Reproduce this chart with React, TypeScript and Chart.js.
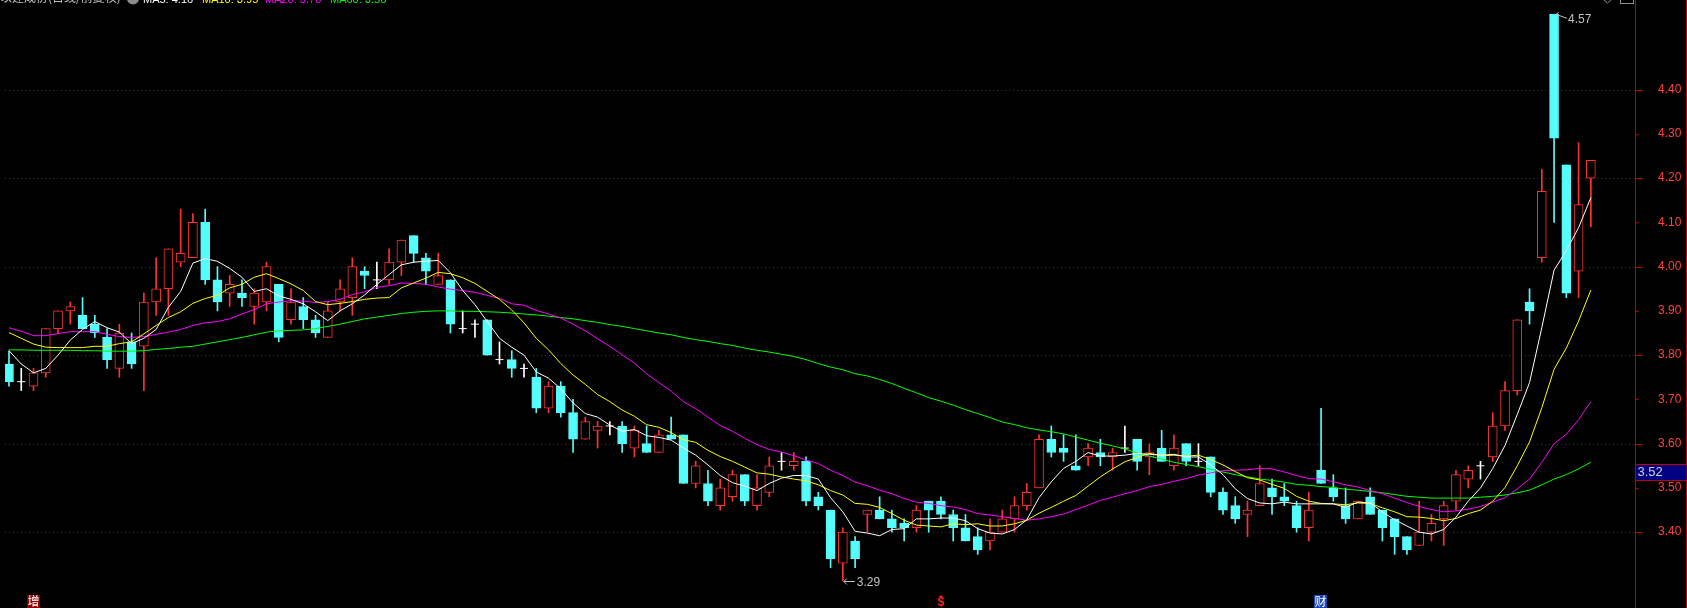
import React, { useEffect, useRef } from 'react';
import { Chart, registerables } from 'chart.js';

Chart.register(...registerables);

// ---------- DATA ----------
const opens = [
  3.78, 3.74, 3.73, 3.76, 3.86, 3.90, 3.89, 3.87, 3.84, 3.77,
  3.83, 3.82, 3.92, 3.95, 4.01, 4.02, 4.10, 3.97, 3.94, 3.94,
  3.91, 3.92, 3.96, 3.88, 3.91, 3.88, 3.84, 3.92, 3.93, 3.99,
  3.97, 3.97, 4.01, 4.07, 4.02, 3.96, 3.97, 3.86, 3.87, 3.88,
  3.79, 3.79, 3.77, 3.75, 3.68, 3.73, 3.67, 3.61, 3.63, 3.64,
  3.64, 3.59, 3.60, 3.58, 3.62, 3.62, 3.51, 3.51, 3.46, 3.48,
  3.53, 3.46, 3.49, 3.56, 3.55, 3.56, 3.48, 3.45, 3.33, 3.38,
  3.44, 3.45, 3.43, 3.42, 3.41, 3.47, 3.47, 3.44, 3.41, 3.39,
  3.38, 3.40, 3.43, 3.46, 3.50, 3.61, 3.59, 3.55, 3.57, 3.58,
  3.57, 3.59, 3.61, 3.57, 3.59, 3.55, 3.60, 3.56, 3.57, 3.49,
  3.46, 3.44, 3.46, 3.50, 3.48, 3.46, 3.41, 3.54, 3.50, 3.46,
  3.43, 3.48, 3.45, 3.43, 3.39, 3.37, 3.40, 3.43, 3.47, 3.52,
  3.55, 3.57, 3.64, 3.72, 3.92, 4.02, 4.57, 4.23, 3.99, 4.20,
];
const highs = [
  3.81, 3.77, 3.77, 3.86, 3.90, 3.92, 3.93, 3.89, 3.86, 3.87,
  3.85, 3.94, 4.02, 4.04, 4.13, 4.12, 4.13, 4.00, 3.98, 3.97,
  3.95, 4.01, 3.96, 3.95, 3.93, 3.89, 3.92, 3.97, 4.02, 4.00,
  4.01, 4.04, 4.06, 4.07, 4.03, 4.03, 3.97, 3.90, 3.88, 3.88,
  3.83, 3.81, 3.78, 3.77, 3.74, 3.74, 3.70, 3.66, 3.65, 3.65,
  3.65, 3.64, 3.64, 3.63, 3.66, 3.62, 3.56, 3.54, 3.52, 3.54,
  3.53, 3.53, 3.57, 3.58, 3.58, 3.57, 3.49, 3.45, 3.41, 3.39,
  3.45, 3.48, 3.45, 3.43, 3.46, 3.47, 3.48, 3.45, 3.44, 3.41,
  3.43, 3.45, 3.48, 3.51, 3.62, 3.64, 3.62, 3.62, 3.60, 3.61,
  3.59, 3.64, 3.61, 3.60, 3.63, 3.62, 3.60, 3.60, 3.57, 3.50,
  3.48, 3.47, 3.55, 3.52, 3.51, 3.47, 3.49, 3.68, 3.53, 3.50,
  3.47, 3.50, 3.45, 3.43, 3.39, 3.47, 3.44, 3.47, 3.54, 3.55,
  3.56, 3.67, 3.74, 3.88, 3.95, 4.22, 4.57, 4.23, 4.28, 4.24,
];
const lows = [
  3.73, 3.72, 3.72, 3.75, 3.85, 3.87, 3.86, 3.84, 3.77, 3.75,
  3.77, 3.72, 3.89, 3.89, 4.00, 4.02, 3.96, 3.90, 3.91, 3.91,
  3.87, 3.90, 3.83, 3.87, 3.86, 3.84, 3.84, 3.90, 3.89, 3.95,
  3.95, 3.96, 3.98, 4.01, 3.96, 3.96, 3.85, 3.85, 3.84, 3.80,
  3.78, 3.75, 3.75, 3.67, 3.67, 3.66, 3.58, 3.61, 3.59, 3.62,
  3.58, 3.57, 3.58, 3.58, 3.61, 3.51, 3.50, 3.46, 3.45, 3.47,
  3.46, 3.45, 3.48, 3.54, 3.54, 3.46, 3.45, 3.32, 3.29, 3.32,
  3.40, 3.43, 3.40, 3.38, 3.40, 3.40, 3.43, 3.38, 3.38, 3.35,
  3.36, 3.40, 3.40, 3.45, 3.50, 3.57, 3.56, 3.54, 3.55, 3.55,
  3.54, 3.58, 3.54, 3.53, 3.56, 3.54, 3.55, 3.55, 3.48, 3.44,
  3.42, 3.39, 3.46, 3.44, 3.46, 3.40, 3.38, 3.51, 3.47, 3.42,
  3.43, 3.44, 3.38, 3.35, 3.35, 3.37, 3.38, 3.37, 3.45, 3.50,
  3.52, 3.56, 3.63, 3.71, 3.87, 4.01, 4.10, 3.93, 3.93, 4.09,
];
const closes = [
  3.74, 3.74, 3.76, 3.86, 3.90, 3.91, 3.86, 3.85, 3.79, 3.85,
  3.78, 3.92, 3.95, 4.04, 4.03, 4.10, 3.97, 3.92, 3.96, 3.93,
  3.94, 4.00, 3.84, 3.92, 3.88, 3.85, 3.90, 3.95, 4.00, 3.98,
  3.97, 4.01, 4.06, 4.03, 3.99, 3.98, 3.87, 3.86, 3.87, 3.80,
  3.79, 3.77, 3.77, 3.68, 3.73, 3.67, 3.61, 3.65, 3.64, 3.64,
  3.60, 3.63, 3.58, 3.62, 3.61, 3.51, 3.55, 3.47, 3.50, 3.53,
  3.47, 3.50, 3.55, 3.56, 3.56, 3.47, 3.46, 3.34, 3.40, 3.34,
  3.45, 3.43, 3.41, 3.41, 3.45, 3.45, 3.44, 3.41, 3.38, 3.36,
  3.40, 3.43, 3.46, 3.49, 3.61, 3.58, 3.58, 3.54, 3.59, 3.57,
  3.58, 3.59, 3.56, 3.58, 3.56, 3.59, 3.56, 3.56, 3.49, 3.45,
  3.43, 3.45, 3.51, 3.48, 3.47, 3.41, 3.45, 3.51, 3.48, 3.43,
  3.47, 3.44, 3.41, 3.39, 3.36, 3.40, 3.42, 3.46, 3.53, 3.54,
  3.55, 3.64, 3.72, 3.88, 3.90, 4.17, 4.29, 3.94, 4.14, 4.24,
];

const ma5 = [
  3.810, 3.780, 3.760, 3.770, 3.800, 3.834, 3.858, 3.876, 3.862, 3.852,
  3.826, 3.838, 3.858, 3.908, 3.944, 4.008, 4.018, 4.012, 3.996, 3.976,
  3.944, 3.950, 3.934, 3.926, 3.916, 3.898, 3.878, 3.900, 3.916, 3.936,
  3.960, 3.982, 4.004, 4.010, 4.012, 4.014, 3.986, 3.946, 3.914, 3.876,
  3.838, 3.818, 3.800, 3.762, 3.748, 3.724, 3.692, 3.668, 3.660, 3.642,
  3.628, 3.632, 3.618, 3.614, 3.608, 3.590, 3.574, 3.552, 3.528, 3.512,
  3.504, 3.494, 3.510, 3.522, 3.528, 3.528, 3.520, 3.478, 3.446, 3.402,
  3.398, 3.392, 3.406, 3.408, 3.430, 3.430, 3.432, 3.432, 3.426, 3.408,
  3.398, 3.396, 3.406, 3.428, 3.478, 3.514, 3.544, 3.560, 3.580, 3.572,
  3.572, 3.574, 3.578, 3.576, 3.574, 3.576, 3.570, 3.570, 3.552, 3.530,
  3.498, 3.476, 3.466, 3.464, 3.468, 3.464, 3.464, 3.464, 3.464, 3.456,
  3.468, 3.466, 3.446, 3.428, 3.414, 3.400, 3.396, 3.406, 3.434, 3.470,
  3.500, 3.544, 3.596, 3.666, 3.738, 3.862, 3.992, 4.036, 4.088, 4.156,
];
const ma10 = [
  3.851, 3.838, 3.825, 3.818, 3.817, 3.817, 3.817, 3.820, 3.820, 3.826,
  3.830, 3.848, 3.867, 3.885, 3.898, 3.917, 3.928, 3.935, 3.952, 3.960,
  3.976, 3.984, 3.973, 3.961, 3.946, 3.921, 3.914, 3.917, 3.921, 3.926,
  3.929, 3.930, 3.952, 3.963, 3.974, 3.987, 3.984, 3.975, 3.962, 3.944,
  3.926, 3.902, 3.873, 3.838, 3.812, 3.781, 3.755, 3.734, 3.711, 3.695,
  3.676, 3.662, 3.643, 3.637, 3.625, 3.609, 3.603, 3.585, 3.571, 3.560,
  3.547, 3.534, 3.531, 3.525, 3.520, 3.516, 3.507, 3.494, 3.484, 3.465,
  3.463, 3.456, 3.442, 3.427, 3.416, 3.414, 3.412, 3.419, 3.417, 3.419,
  3.414, 3.414, 3.419, 3.427, 3.443, 3.456, 3.470, 3.483, 3.504, 3.525,
  3.543, 3.559, 3.569, 3.578, 3.573, 3.574, 3.572, 3.574, 3.564, 3.552,
  3.537, 3.523, 3.518, 3.508, 3.499, 3.481, 3.470, 3.465, 3.464, 3.462,
  3.466, 3.465, 3.455, 3.446, 3.435, 3.434, 3.431, 3.426, 3.431, 3.442,
  3.450, 3.470, 3.501, 3.550, 3.604, 3.681, 3.768, 3.816, 3.877, 3.947,
];
const ma20 = [
  3.862, 3.854, 3.844, 3.844, 3.849, 3.853, 3.853, 3.853, 3.847, 3.842,
  3.840, 3.842, 3.847, 3.852, 3.858, 3.867, 3.873, 3.876, 3.882, 3.893,
  3.903, 3.916, 3.920, 3.923, 3.922, 3.919, 3.921, 3.926, 3.937, 3.943,
  3.953, 3.957, 3.963, 3.962, 3.960, 3.954, 3.949, 3.946, 3.942, 3.935,
  3.928, 3.916, 3.913, 3.901, 3.893, 3.884, 3.870, 3.855, 3.837, 3.820,
  3.801, 3.782, 3.758, 3.738, 3.719, 3.695, 3.679, 3.660, 3.641, 3.628,
  3.612, 3.598, 3.587, 3.581, 3.573, 3.563, 3.555, 3.540, 3.528, 3.513,
  3.505, 3.495, 3.487, 3.476, 3.468, 3.465, 3.460, 3.457, 3.451, 3.442,
  3.439, 3.435, 3.431, 3.427, 3.430, 3.435, 3.441, 3.451, 3.461, 3.472,
  3.479, 3.487, 3.494, 3.503, 3.508, 3.515, 3.521, 3.529, 3.534, 3.539,
  3.540, 3.541, 3.544, 3.543, 3.536, 3.528, 3.521, 3.520, 3.514, 3.507,
  3.502, 3.494, 3.487, 3.477, 3.467, 3.458, 3.451, 3.446, 3.448, 3.452,
  3.458, 3.468, 3.478, 3.498, 3.520, 3.558, 3.600, 3.621, 3.654, 3.695,
];
const ma60 = [
  3.812, 3.812, 3.811, 3.811, 3.811, 3.811, 3.810, 3.810, 3.809, 3.809,
  3.809, 3.810, 3.813, 3.815, 3.818, 3.820, 3.825, 3.830, 3.835, 3.840,
  3.846, 3.852, 3.855, 3.856, 3.857, 3.860, 3.865, 3.870, 3.876, 3.882,
  3.886, 3.890, 3.894, 3.897, 3.899, 3.900, 3.900, 3.899, 3.899, 3.898,
  3.897, 3.895, 3.893, 3.891, 3.888, 3.885, 3.882, 3.878, 3.874, 3.869,
  3.865, 3.860, 3.855, 3.850, 3.846, 3.840, 3.835, 3.831, 3.826, 3.822,
  3.816, 3.811, 3.807, 3.802, 3.797, 3.790, 3.781, 3.773, 3.767, 3.758,
  3.753, 3.745, 3.736, 3.725, 3.715, 3.704, 3.696, 3.687, 3.677, 3.668,
  3.659, 3.649, 3.643, 3.636, 3.631, 3.627, 3.622, 3.615, 3.608, 3.601,
  3.595, 3.588, 3.579, 3.572, 3.565, 3.558, 3.553, 3.548, 3.542, 3.536,
  3.530, 3.525, 3.520, 3.517, 3.513, 3.508, 3.506, 3.503, 3.501, 3.497,
  3.495, 3.492, 3.489, 3.485, 3.481, 3.479, 3.477, 3.477, 3.477, 3.477,
  3.479, 3.481, 3.484, 3.489, 3.495, 3.507, 3.520, 3.530, 3.543, 3.558,
];

const yTickValues = [3.4, 3.5, 3.6, 3.7, 3.8, 3.9, 4.0, 4.1, 4.2, 4.3, 4.4];
const gridValues = [3.4, 3.6, 3.8, 4.0, 4.2, 4.4];

const titleText = '以建成份(日线/前复权)';
const legendItems = [
  { text: 'MA5: 4.16', color: '#ffffff', x: 143 },
  { text: 'MA10: 3.95', color: '#ffff00', x: 202 },
  { text: 'MA20: 3.70', color: '#ff00ff', x: 265 },
  { text: 'MA60: 3.56', color: '#00ff00', x: 330 },
];
const bottomMarkers = [
  { index: 2, text: '增', bg: '#8c0000', color: '#ffffff' },
  { index: 76, text: '$', bg: '', color: '#ff2020' },
  { index: 107, text: '财', bg: '#1e46b4', color: '#ffffff' },
];
const highMark = { index: 126, value: 4.57 };
const lowMark = { index: 68, value: 3.29 };
const cursorPrice = 3.52;

const UP = '#ff3232';
const DOWN = '#54fcfc';
const DOJI = '#ffffff';

function candleColor(i: number) {
  if (closes[i] > opens[i]) return UP;
  if (closes[i] < opens[i]) return DOWN;
  return DOJI;
}

const decorPlugin = {
  id: 'decor',
  beforeDraw(chart: any) {
    const ctx = chart.ctx;
    ctx.save();
    ctx.fillStyle = '#000000';
    ctx.fillRect(0, 0, chart.width, chart.height);
    ctx.restore();
  },
  beforeDatasetsDraw(chart: any) {
    const { ctx, chartArea } = chart;
    const y = chart.scales.y;
    ctx.save();
    ctx.strokeStyle = '#b40000';
    ctx.lineWidth = 1;
    ctx.setLineDash([1, 3]);
    gridValues.forEach((v) => {
      const py = Math.round(y.getPixelForValue(v)) + 0.5;
      ctx.beginPath();
      ctx.moveTo(chartArea.left, py);
      ctx.lineTo(chartArea.right, py);
      ctx.stroke();
    });
    ctx.restore();
  },
  afterDraw(chart: any) {
    const { ctx, chartArea } = chart;
    const y = chart.scales.y;
    const x = chart.scales.x;
    ctx.save();
    // axis line + ticks
    const ax = Math.round(chartArea.right) + 0.5;
    ctx.strokeStyle = '#c00000';
    ctx.lineWidth = 1;
    ctx.beginPath();
    ctx.moveTo(ax, 0);
    ctx.lineTo(ax, chart.height);
    ctx.moveTo(chart.width - 0.5, 0);
    ctx.lineTo(chart.width - 0.5, chart.height);
    ctx.stroke();
    yTickValues.forEach((v) => {
      const major = gridValues.some((g) => Math.abs(g - v) < 1e-6);
      const py = Math.round(y.getPixelForValue(v)) + 0.5;
      ctx.beginPath();
      ctx.moveTo(ax, py);
      ctx.lineTo(ax + (major ? 6 : 3), py);
      ctx.stroke();
    });

    // cursor price box
    const cy = y.getPixelForValue(cursorPrice);
    const top = Math.round(cy) - 15;
    ctx.fillStyle = '#000080';
    ctx.fillRect(ax + 0.5, top, chart.width - ax - 1, 16);
    ctx.strokeStyle = '#c00000';
    ctx.beginPath();
    ctx.moveTo(ax, top + 0.5);
    ctx.lineTo(chart.width, top + 0.5);
    ctx.moveTo(ax, top + 16.5);
    ctx.lineTo(chart.width, top + 16.5);
    ctx.stroke();
    ctx.fillStyle = '#d0d0e0';
    ctx.font = '13px "Liberation Sans", Arial, sans-serif';
    ctx.textBaseline = 'middle';
    ctx.textAlign = 'left';
    ctx.fillText(cursorPrice.toFixed(2), ax + 2, top + 8.5);

    // high / low annotations
    ctx.strokeStyle = '#c0c0c0';
    ctx.fillStyle = '#c0c0c0';
    ctx.font = '12px "Liberation Sans", Arial, sans-serif';
    const hx = x.getPixelForValue(highMark.index);
    const hy = y.getPixelForValue(highMark.value);
    ctx.beginPath();
    ctx.moveTo(hx + 2, hy);
    ctx.lineTo(hx + 13, hy + 4);
    ctx.moveTo(hx + 2, hy);
    ctx.lineTo(hx + 5, hy - 2);
    ctx.moveTo(hx + 2, hy);
    ctx.lineTo(hx + 4, hy + 3);
    ctx.stroke();
    ctx.textBaseline = 'middle';
    ctx.fillText(highMark.value.toFixed(2), hx + 14, hy + 5);

    const lx = x.getPixelForValue(lowMark.index);
    const ly = Math.round(y.getPixelForValue(lowMark.value)) + 0.5;
    ctx.beginPath();
    ctx.moveTo(lx + 1, ly);
    ctx.lineTo(lx + 12, ly);
    ctx.moveTo(lx + 1, ly);
    ctx.lineTo(lx + 4, ly - 3);
    ctx.moveTo(lx + 1, ly);
    ctx.lineTo(lx + 4, ly + 3);
    ctx.stroke();
    ctx.fillText(lowMark.value.toFixed(2), lx + 14, ly + 1);

    // top legend (cut off by the top edge)
    ctx.textBaseline = 'alphabetic';
    ctx.fillStyle = '#c0c0c0';
    ctx.font = '12px "Noto Sans CJK SC", sans-serif';
    ctx.fillText(titleText, 0, 2);
    ctx.fillStyle = '#8c8c8c';
    ctx.beginPath();
    ctx.arc(133, -1.5, 6, 0, Math.PI * 2);
    ctx.fill();
    ctx.font = '11px "Liberation Sans", Arial, sans-serif';
    legendItems.forEach((it) => {
      ctx.fillStyle = it.color;
      ctx.fillText(it.text, it.x, 3);
    });

    // top-right small icons
    ctx.strokeStyle = '#8c8c8c';
    ctx.beginPath();
    ctx.moveTo(1604, 0);
    ctx.lineTo(1607.5, 3);
    ctx.lineTo(1611, 0);
    ctx.stroke();
    ctx.strokeRect(1620.5, -3.5, 13, 7);

    // bottom markers
    ctx.textAlign = 'center';
    ctx.textBaseline = 'middle';
    bottomMarkers.forEach((m) => {
      const mx = Math.round(x.getPixelForValue(m.index));
      if (m.bg) {
        ctx.fillStyle = m.bg;
        ctx.fillRect(mx - 7, chart.height - 13, 13, 13);
        ctx.fillStyle = m.color;
        ctx.font = '12px "Noto Sans CJK SC", sans-serif';
        ctx.fillText(m.text, mx - 0.5, chart.height - 6.5);
      } else {
        ctx.fillStyle = m.color;
        ctx.font = 'bold 12px "Liberation Sans", Arial, sans-serif';
        ctx.fillText(m.text, mx, chart.height - 5);
        ctx.beginPath();
        ctx.moveTo(mx - 2, chart.height - 11);
        ctx.lineTo(mx, chart.height - 13);
        ctx.lineTo(mx + 2, chart.height - 11);
        ctx.fill();
      }
    });
    ctx.restore();
  },
};

export default function App() {
  const canvasRef = useRef<HTMLCanvasElement | null>(null);

  useEffect(() => {
    const canvas = canvasRef.current;
    if (!canvas) return;
    const idx = closes.map((_, i) => i);
    const bodyIdx = idx.filter((i) => opens[i] !== closes[i]);
    const dojiIdx = idx.filter((i) => opens[i] === closes[i]);

    const maDataset = (label: string, values: number[], color: string) => ({
      type: 'line',
      label,
      data: values.map((v, i) => ({ x: i, y: v })),
      borderColor: color,
      borderWidth: 1,
      pointRadius: 0,
      tension: 0,
      fill: false,
      order: 1,
    });

    const chart = new Chart(canvas, {
      type: 'bar',
      data: {
        datasets: [
          {
            type: 'bar',
            label: 'wick',
            data: idx.map((i) => ({ x: i, y: [lows[i], highs[i]] })),
            backgroundColor: idx.map((i) => candleColor(i)),
            borderWidth: 0,
            barThickness: 1,
            grouped: false,
            order: 5,
          },
          {
            type: 'bar',
            label: 'body',
            data: bodyIdx.map((i) => ({
              x: i,
              y: [Math.min(opens[i], closes[i]), Math.max(opens[i], closes[i])],
            })),
            backgroundColor: bodyIdx.map((i) => (closes[i] > opens[i] ? '#000000' : DOWN)),
            borderColor: bodyIdx.map((i) => (closes[i] > opens[i] ? UP : DOWN)),
            borderWidth: 1,
            borderSkipped: false,
            barThickness: 9,
            grouped: false,
            order: 4,
          },
          {
            type: 'line',
            label: 'doji',
            data: dojiIdx.map((i) => ({ x: i, y: closes[i] })),
            showLine: false,
            pointStyle: 'line',
            pointRadius: 4,
            pointBorderColor: DOJI,
            pointBorderWidth: 1,
            borderColor: DOJI,
            order: 3,
          },
          maDataset('MA5', ma5, '#ffffff'),
          maDataset('MA10', ma10, '#ffff00'),
          maDataset('MA20', ma20, '#ff00ff'),
          maDataset('MA60', ma60, '#00ff00'),
        ],
      } as any,
      options: {
        animation: false,
        responsive: false,
        devicePixelRatio: 1,
        events: [],
        layout: { padding: 0 },
        plugins: { legend: { display: false }, tooltip: { enabled: false } },
        scales: {
          x: {
            type: 'linear',
            min: -0.325,
            max: 132.6,
            display: false,
            offset: false,
          },
          y: {
            type: 'linear',
            position: 'right',
            min: 3.24,
            max: 4.5911,
            grid: { display: false, drawTicks: false },
            border: { display: false },
            afterBuildTicks: (s: any) => {
              s.ticks = yTickValues.map((v) => ({ value: v }));
            },
            afterFit: (s: any) => {
              s.width = 52;
              s.paddingTop = 0;
              s.paddingBottom = 0;
            },
            ticks: {
              color: '#ff4040',
              font: { family: '"Liberation Sans", Arial, sans-serif', size: 12 },
              padding: 23,
              autoSkip: false,
              callback: (v: any) => Number(v).toFixed(2),
            },
          },
        },
      } as any,
      plugins: [decorPlugin],
    });
    return () => chart.destroy();
  }, []);

  return (
    <div style={{ width: 1687, height: 608, background: '#000' }}>
      <style>{'html,body{margin:0;padding:0;background:#000;}'}</style>
      <canvas ref={canvasRef} width={1687} height={608} style={{ display: 'block' }} />
    </div>
  );
}
